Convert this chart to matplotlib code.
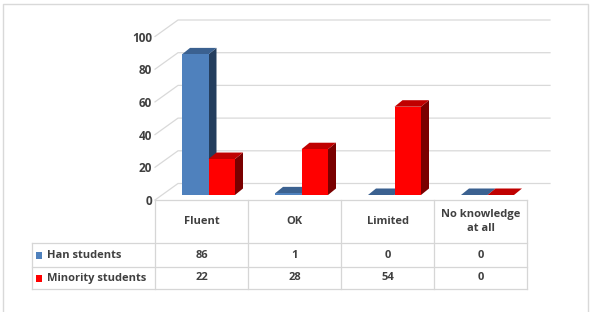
import matplotlib.pyplot as plt
from matplotlib.patches import Polygon

categories = ['Fluent', 'OK', 'Limited', 'No knowledge\nat all']
series_names = ['Han students', 'Minority students']
han = [86, 1, 0, 0]
minority = [22, 28, 54, 0]
yticks = [0, 20, 40, 60, 80, 100]

plt.rcParams['font.family'] = ['Open Sans', 'DejaVu Sans']
plt.rcParams['font.weight'] = 'bold'
txt = '#404040'
grid = '#d9d9d9'

# colours: front, top, side
colors = [('#4F81BD', '#3B6190', '#243E5E'),
          ('#FF0000', '#C00000', '#7A0000')]

W, H = 594, 312
fig = plt.figure(figsize=(W / 100, H / 100), dpi=100)

# plot area in pixels
px_cat = 93.0
px_val = 1.635
x0, x1 = 155, 550
y0, y1 = 200, 15
ax = fig.add_axes([x0 / W, 1 - y0 / H, (x1 - x0) / W, (y0 - y1) / H])
xmax = -0.5 + (x1 - x0) / px_cat
ax.set_xlim(-0.5, xmax)
ax.set_ylim(0, (y0 - y1) / px_val)
ax.patch.set_visible(False)
for s in ax.spines.values():
    s.set_visible(False)
ax.set_xticks([])
ax.set_yticks(yticks)
ax.tick_params(axis='y', length=0, pad=2, labelsize=8.5, labelcolor=txt)
for lab in ax.get_yticklabels():
    lab.set_fontweight('bold')

# 3d offsets (data units)
back_dx, back_dy = 23 / px_cat, 16.5 / px_val
bar_dx, bar_dy = 7 / px_cat, 5 / px_val
dep_dx, dep_dy = 8 / px_cat, 6.5 / px_val
bw = 26.5 / px_cat

# walls / grid
for v in yticks:
    ax.plot([-0.5, -0.5 + back_dx, xmax], [v, v + back_dy, v + back_dy],
            color=grid, lw=0.9, clip_on=False, zorder=1)

# bars
for i in range(len(categories)):
    for j, vals in enumerate([han, minority]):
        v = vals[i]
        front_c, top_c, side_c = colors[j]
        xl = i - bw + j * bw + bar_dx
        base = bar_dy
        top = base + v
        top_face = [(xl, top), (xl + bw, top), (xl + bw + dep_dx, top + dep_dy), (xl + dep_dx, top + dep_dy)]
        if v > 0:
            side = [(xl + bw, base), (xl + bw + dep_dx, base + dep_dy),
                    (xl + bw + dep_dx, top + dep_dy), (xl + bw, top)]
            front = [(xl, base), (xl + bw, base), (xl + bw, top), (xl, top)]
            ax.add_patch(Polygon(side, closed=True, fc=side_c, ec='none', clip_on=False, zorder=3))
            ax.add_patch(Polygon(top_face, closed=True, fc=top_c, ec='none', clip_on=False, zorder=3))
            ax.add_patch(Polygon(front, closed=True, fc=front_c, ec='none', clip_on=False, zorder=3))
        else:
            ax.add_patch(Polygon(top_face, closed=True, fc=top_c, ec='none', clip_on=False, zorder=3))

# overlay in pixels: frame and data table
ov = fig.add_axes([0, 0, 1, 1])
ov.set_xlim(0, W)
ov.set_ylim(H, 0)
ov.axis('off')

ov.plot([3, 3, 588, 588], [H, 4, 4, H], color=grid, lw=1)

col_x = [155 + k * px_cat for k in range(len(categories) + 1)]
row_y = [200, 243, 267, 289]
lc = '#d6d6d6'
ov.plot([col_x[0], col_x[-1]], [row_y[0], row_y[0]], color=lc, lw=0.9)
for y in row_y[1:]:
    ov.plot([32, col_x[-1]], [y, y], color=lc, lw=0.9)
ov.plot([32, 32], [row_y[1], row_y[-1]], color=lc, lw=0.9)
for x in col_x:
    ov.plot([x, x], [row_y[0], row_y[-1]], color=lc, lw=0.9)

for k, cat in enumerate(categories):
    cx = (col_x[k] + col_x[k + 1]) / 2
    ov.text(cx, (row_y[0] + row_y[1]) / 2, cat, ha='center', va='center',
            fontsize=8, fontweight='bold', color=txt, linespacing=1.35)
    for r, vals in enumerate([han, minority]):
        ov.text(cx, (row_y[r + 1] + row_y[r + 2]) / 2, str(vals[k]),
                ha='center', va='center', fontsize=8, fontweight='bold', color=txt)

for r, name in enumerate(series_names):
    cy = (row_y[r + 1] + row_y[r + 2]) / 2
    ov.add_patch(plt.Rectangle((35.5, cy - 3.5), 6.5, 7, fc=colors[r][0], ec='none'))
    ov.text(47, cy, name, ha='left', va='center', fontsize=8, fontweight='bold', color=txt)

fig.savefig('out.png', dpi=100)
